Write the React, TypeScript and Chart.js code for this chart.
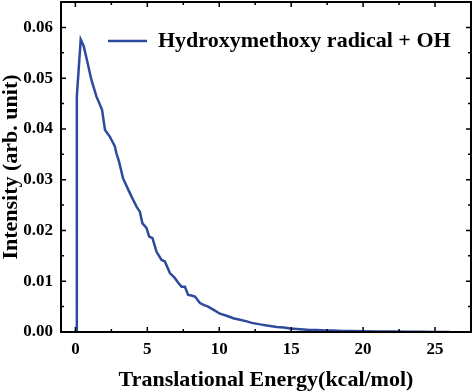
import React, { useEffect, useRef } from "react";
import { Chart, registerables } from "chart.js";

Chart.register(...registerables);

const seriesLabel = "Hydroxymethoxy radical + OH";
const energy = [
  0.05, 0.1, 0.37, 0.58, 0.85, 1.11, 1.46, 1.85, 2.06, 2.39, 2.74, 2.85, 3.04, 3.31, 3.55, 3.78,
  4.02, 4.25, 4.48, 4.66, 4.94, 5.13, 5.36, 5.64, 5.99, 6.22, 6.57, 6.92, 7.15, 7.38, 7.61, 7.84,
  8.07, 8.31, 8.66, 8.95, 9.23, 9.58, 10.05, 10.51, 10.98, 11.44, 11.91, 12.26, 12.84, 13.3, 14.0,
  14.5, 14.92, 15.4, 15.85, 16.3, 16.78, 17.4, 17.94, 18.5, 19.2, 20, 21, 22, 23, 24, 25, 26,
];
const intensity = [
  0, 0.0464, 0.0576, 0.0563, 0.053, 0.0497, 0.0464, 0.0438, 0.0398, 0.0385, 0.0366, 0.0352, 0.0335,
  0.0303, 0.0288, 0.0274, 0.026, 0.0247, 0.0237, 0.0214, 0.0205, 0.0188, 0.0185, 0.0158, 0.0142,
  0.0139, 0.0116, 0.0106, 0.0097, 0.0089, 0.0089, 0.0073, 0.0072, 0.007, 0.0057, 0.0053, 0.005,
  0.0044, 0.0036, 0.0032, 0.0027, 0.0024, 0.0021, 0.0018, 0.0015, 0.0013, 0.001, 0.0009, 0.0007,
  0.0006, 0.0005, 0.0004, 0.0004, 0.0003, 0.0003, 0.0002, 0.0002, 0.00015, 0.0001, 0.00008,
  0.00005, 0.00004, 0.00002, 0.00001,
];
const xMajorTicks = [0, 5, 10, 15, 20, 25];
const xMinorTicks = [2.5, 7.5, 12.5, 17.5, 22.5, 27.5];
const yMajorTicks = [0, 0.01, 0.02, 0.03, 0.04, 0.05, 0.06];
const yMinorTicks = [0.005, 0.015, 0.025, 0.035, 0.045, 0.055, 0.065];

const LINE_COLOR = "#2d4a9c";
const FONT = "'Liberation Serif', 'Times New Roman', serif";

const framePlugin = {
  id: "frame",
  afterDraw(chart: any) {
    const { ctx, chartArea: a, scales } = chart;
    const xs = scales.x;
    const ys = scales.y;
    ctx.save();
    ctx.strokeStyle = "#000";
    ctx.lineWidth = 2;
    ctx.strokeRect(a.left, a.top, a.right - a.left, a.bottom - a.top);
    ctx.lineWidth = 1.5;
    const drawX = (vals: number[], len: number) => {
      vals.forEach((v) => {
        const px = xs.getPixelForValue(v);
        if (px < a.left || px > a.right) return;
        ctx.beginPath();
        ctx.moveTo(px, a.bottom);
        ctx.lineTo(px, a.bottom - len);
        ctx.moveTo(px, a.top);
        ctx.lineTo(px, a.top + len);
        ctx.stroke();
      });
    };
    const drawY = (vals: number[], len: number) => {
      vals.forEach((v) => {
        const py = ys.getPixelForValue(v);
        if (py < a.top || py > a.bottom) return;
        ctx.beginPath();
        ctx.moveTo(a.left, py);
        ctx.lineTo(a.left + len, py);
        ctx.moveTo(a.right, py);
        ctx.lineTo(a.right - len, py);
        ctx.stroke();
      });
    };
    drawX(xMajorTicks, 5);
    drawX(xMinorTicks, 3);
    drawY(yMajorTicks, 5);
    drawY(yMinorTicks, 3);

    // legend inside plot
    const ds = chart.data.datasets[0];
    const ly = 41;
    ctx.strokeStyle = ds.borderColor;
    ctx.lineWidth = 2.5;
    ctx.beginPath();
    ctx.moveTo(108, ly);
    ctx.lineTo(147, ly);
    ctx.stroke();
    ctx.fillStyle = "#000";
    ctx.font = `bold 22px ${FONT}`;
    ctx.textBaseline = "middle";
    ctx.textAlign = "left";
    ctx.fillText(ds.label, 158, ly);
    ctx.restore();
  },
};

export default function App() {
  const ref = useRef<HTMLCanvasElement>(null);
  useEffect(() => {
    document.body.style.margin = "0";
    const data = energy.map((x, i) => ({ x, y: intensity[i] }));
    const chart = new Chart(ref.current!, {
      type: "line",
      data: {
        datasets: [
          {
            label: seriesLabel,
            data,
            borderColor: LINE_COLOR,
            borderWidth: 2.5,
            pointRadius: 0,
            tension: 0,
            fill: false,
          },
        ],
      },
      options: {
        animation: false,
        responsive: false,
        layout: { padding: { top: 2, right: 3, left: 0, bottom: 0 } },
        plugins: { legend: { display: false }, tooltip: { enabled: false } },
        scales: {
          x: {
            type: "linear",
            min: -1,
            max: 27.5,
            afterBuildTicks: (s: any) => {
              s.ticks = xMajorTicks.map((v) => ({ value: v }));
            },
            afterFit: (s: any) => {
              s.height = 59;
              s.paddingLeft = 0;
              s.paddingRight = 0;
            },
            grid: { display: false, drawTicks: false },
            border: { display: false },
            ticks: {
              padding: 7,
              color: "#000",
              font: { family: FONT, weight: "bold", size: 17 },
              callback: (v: any) => String(v),
            },
            title: {
              display: true,
              text: "Translational Energy(kcal/mol)",
              color: "#000",
              font: { family: FONT, weight: "bold", size: 22, lineHeight: 1 },
              padding: 0,
            },
          },
          y: {
            type: "linear",
            min: 0,
            max: 0.065,
            afterBuildTicks: (s: any) => {
              s.ticks = yMajorTicks.map((v) => ({ value: v }));
            },
            afterFit: (s: any) => {
              s.width = 61;
              s.paddingTop = 0;
              s.paddingBottom = 0;
            },
            grid: { display: false, drawTicks: false },
            border: { display: false },
            ticks: {
              padding: 8,
              color: "#000",
              font: { family: FONT, weight: "bold", size: 17 },
              callback: (v: any) => Number(v).toFixed(2),
            },
            title: {
              display: true,
              text: "Intensity (arb. unit)",
              color: "#000",
              font: { family: FONT, weight: "bold", size: 22, lineHeight: 1 },
              padding: 0,
            },
          },
        },
      },
      plugins: [framePlugin],
    });
    return () => chart.destroy();
  }, []);
  return <canvas ref={ref} width={474} height={391} style={{ display: "block" }} />;
}
